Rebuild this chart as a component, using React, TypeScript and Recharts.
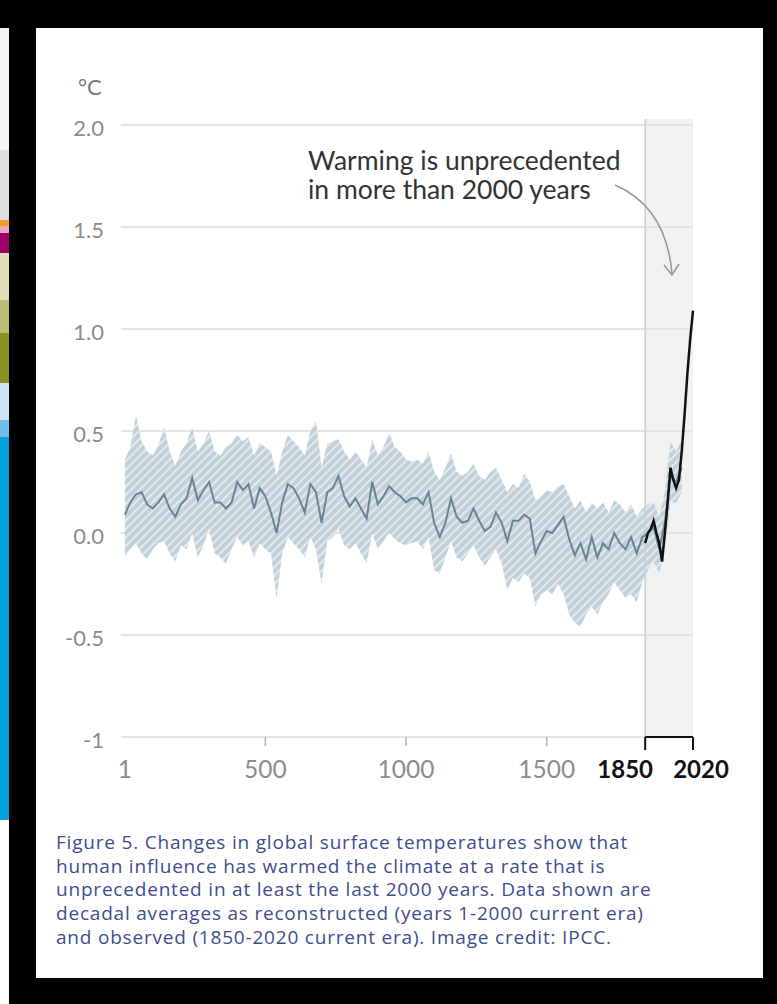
import React from "react";
import {
  ComposedChart,
  Area,
  Line,
  XAxis,
  YAxis,
  CartesianGrid,
  ReferenceArea,
  ReferenceLine,
} from "recharts";

// reconstructed decadal values (sampled every 20 years), °C
const reconYears = [
  1, 20, 40, 60, 80, 100, 120, 140, 160, 180,
  200, 220, 240, 260, 280, 300, 320, 340, 360, 380,
  400, 420, 440, 460, 480, 500, 520, 540, 560, 580,
  600, 620, 640, 660, 680, 700, 720, 740, 760, 780,
  800, 820, 840, 860, 880, 900, 920, 940, 960, 980,
  1000, 1020, 1040, 1060, 1080, 1100, 1120, 1140, 1160, 1180,
  1200, 1220, 1240, 1260, 1280, 1300, 1320, 1340, 1360, 1380,
  1400, 1420, 1440, 1460, 1480, 1500, 1520, 1540, 1560, 1580,
  1600, 1620, 1640, 1660, 1680, 1700, 1720, 1740, 1760, 1780,
  1800, 1820, 1840, 1860, 1880, 1900, 1920, 1940, 1960, 1980,
];
const reconMean = [
  0.09, 0.15, 0.19, 0.2, 0.14, 0.12, 0.15, 0.19, 0.12, 0.08,
  0.14, 0.17, 0.27, 0.16, 0.21, 0.25, 0.15, 0.15, 0.12, 0.15,
  0.25, 0.21, 0.24, 0.12, 0.22, 0.18, 0.1, 0.0, 0.15, 0.24,
  0.22, 0.17, 0.1, 0.24, 0.2, 0.05, 0.2, 0.22, 0.28, 0.18,
  0.13, 0.17, 0.12, 0.07, 0.25, 0.14, 0.18, 0.23, 0.2, 0.18,
  0.15, 0.17, 0.17, 0.14, 0.2, 0.05, -0.02, 0.05, 0.17, 0.08,
  0.05, 0.06, 0.12, 0.06, 0.01, 0.03, 0.1, 0.05, -0.04, 0.06,
  0.06, 0.09, 0.07, -0.1, -0.04, 0.01, 0.0, 0.04, 0.08, -0.03,
  -0.11, -0.05, -0.13, -0.02, -0.12, -0.05, -0.08, 0.0, -0.05, -0.08,
  -0.02, -0.1, -0.02, 0.0, 0.03, -0.08, 0.05, 0.28, 0.25, 0.32,
];
const reconUpper = [
  0.36, 0.42, 0.58, 0.45, 0.4, 0.38, 0.43, 0.52, 0.4, 0.33,
  0.4, 0.44, 0.52, 0.4, 0.44, 0.5, 0.4, 0.38, 0.42, 0.44,
  0.48, 0.45, 0.47, 0.38, 0.44, 0.42, 0.4, 0.28, 0.4, 0.48,
  0.45, 0.42, 0.38, 0.5, 0.55, 0.32, 0.44, 0.45, 0.46, 0.4,
  0.36, 0.4, 0.36, 0.32, 0.46, 0.38, 0.42, 0.49, 0.42, 0.4,
  0.36, 0.35, 0.36, 0.34, 0.4, 0.3, 0.26, 0.32, 0.39, 0.3,
  0.28, 0.3, 0.34, 0.28, 0.26, 0.3, 0.32, 0.26, 0.2, 0.24,
  0.22, 0.29, 0.25, 0.16, 0.18, 0.21, 0.2, 0.23, 0.24, 0.18,
  0.12, 0.16, 0.1, 0.15, 0.12, 0.15, 0.1, 0.16, 0.14, 0.1,
  0.14, 0.08, 0.12, 0.14, 0.15, 0.08, 0.2, 0.45, 0.4, 0.46,
];
const reconLower = [
  -0.12, -0.08, -0.05, -0.1, -0.13, -0.08, -0.05, -0.04, -0.1, -0.14,
  -0.06, -0.08, 0.0, -0.12, -0.06, 0.02, -0.1, -0.12, -0.15, -0.08,
  -0.02, -0.06, -0.04, -0.12, -0.05, -0.08, -0.1, -0.32, -0.1, -0.02,
  -0.05, -0.08, -0.12, -0.02, -0.08, -0.25, -0.04, -0.02, 0.02, -0.06,
  -0.08, -0.05, -0.1, -0.15, 0.0, -0.08, -0.04, 0.0, -0.03, -0.05,
  -0.06, -0.05, -0.04, -0.08, -0.02, -0.18, -0.2, -0.12, -0.04, -0.12,
  -0.14, -0.1, -0.06, -0.12, -0.16, -0.12, -0.08, -0.15, -0.28, -0.22,
  -0.24, -0.2, -0.22, -0.36, -0.3, -0.28, -0.3, -0.25, -0.3, -0.4,
  -0.44, -0.46, -0.4, -0.36, -0.4, -0.34, -0.3, -0.24, -0.28, -0.32,
  -0.3, -0.34, -0.24, -0.18, -0.14, -0.2, -0.08, 0.15, 0.15, 0.2,
];

// observed decadal averages
const obsYears = [1850, 1860, 1870, 1880, 1890, 1900, 1910, 1920, 1930, 1940, 1950, 1960, 1970, 1980, 1990, 2000, 2010, 2020];
const obsValues = [-0.05, 0.0, 0.02, 0.06, 0.0, -0.05, -0.14, 0.0, 0.15, 0.32, 0.26, 0.22, 0.26, 0.4, 0.58, 0.78, 0.95, 1.09];

const xTicks = [1, 500, 1000, 1500, 1850, 2020];
const yTicks = [-1, -0.5, 0, 0.5, 1, 1.5, 2];
const yTickLabels: Record<string, string> = {
  "-1": "-1",
  "-0.5": "-0.5",
  "0": "0.0",
  "0.5": "0.5",
  "1": "1.0",
  "1.5": "1.5",
  "2": "2.0",
};

const captionLines = [
  "Figure 5. Changes in global surface temperatures show that",
  "human influence has warmed the climate at a rate that is",
  "unprecedented in at least the last 2000 years. Data shown are",
  "decadal averages as reconstructed (years 1-2000 current era)",
  "and observed (1850-2020 current era). Image credit: IPCC.",
];

// merge both series into one table keyed by year
const rows: Record<number, any> = {};
reconYears.forEach((yr, i) => {
  rows[yr] = { year: yr, mean: reconMean[i], band: [reconLower[i], reconUpper[i]] };
});
obsYears.forEach((yr, i) => {
  rows[yr] = { ...(rows[yr] || { year: yr }), obs: obsValues[i] };
});
const data = Object.values(rows).sort((a, b) => a.year - b.year);

const FONT = "Lato, 'Open Sans', sans-serif";

const XTick = (props: any) => {
  const { x, y, payload } = props;
  const v = payload.value;
  const bold = v >= 1850;
  const dx = v === 1850 ? -20 : v === 2020 ? 8 : 0;
  return (
    <g>
      {v !== 1 && (
        <line
          x1={x}
          x2={x}
          y1={y}
          y2={y + (bold ? 13 : 9)}
          stroke={bold ? "#111" : "#b0b0b0"}
          strokeWidth={bold ? 2 : 1.5}
        />
      )}
      <text
        x={x + dx}
        y={y + 41}
        textAnchor="middle"
        fontFamily={FONT}
        fontSize={bold ? 24 : 24.5}
        fontWeight={bold ? 700 : 400}
        fill={bold ? "#111" : "#8c8c8c"}
      >
        {v}
      </text>
    </g>
  );
};

const YTick = (props: any) => {
  const { x, y, payload } = props;
  return (
    <text
      x={x}
      y={y + 2}
      textAnchor="end"
      dominantBaseline="central"
      fontFamily={FONT}
      fontSize={22}
      fill="#8c8c8c"
    >
      {yTickLabels[String(payload.value)]}
    </text>
  );
};

const stripes = [
  { top: 28, h: 122, c: "#f4f4f4" },
  { top: 150, h: 70, c: "#dedede" },
  { top: 220, h: 6, c: "#f0a020" },
  { top: 226, h: 7, c: "#e8a8c8" },
  { top: 233, h: 20, c: "#a0006a" },
  { top: 253, h: 47, c: "#e0ddb4" },
  { top: 300, h: 33, c: "#bcbc78" },
  { top: 333, h: 50, c: "#8a9124" },
  { top: 383, h: 37, c: "#cde3f5" },
  { top: 420, h: 17, c: "#72bce8" },
  { top: 437, h: 383, c: "#03a0de" },
  { top: 820, h: 184, c: "#ffffff" },
];

export default function App() {
  return (
    <div style={{ position: "absolute", left: 0, top: 0, width: 777, height: 1004, background: "#000", overflow: "hidden" }}>
      <svg width={0} height={0} style={{ position: "absolute" }}>
        <defs>
          <pattern id="hatch" patternUnits="userSpaceOnUse" width={6} height={6} patternTransform="rotate(45)">
            <rect width={6} height={6} fill="#c2d0d9" />
            <line x1={1} y1={0} x2={1} y2={6} stroke="#e3e9ed" strokeWidth={2} />
          </pattern>
        </defs>
      </svg>

      {/* partial neighbouring graphic on the left edge */}
      {stripes.map((s, i) => (
        <div key={i} style={{ position: "absolute", left: 0, top: s.top, width: 9, height: s.h, background: s.c }} />
      ))}

      {/* white card */}
      <div style={{ position: "absolute", left: 36, top: 28, width: 727, height: 950, background: "#fff" }} />

      <div style={{ position: "absolute", left: 0, top: 0 }}>
        <ComposedChart
          width={777}
          height={800}
          data={data}
          margin={{ top: 125, right: 84, bottom: 0, left: 41 }}
        >
          <CartesianGrid horizontal vertical={false} stroke="#dcdcdc" strokeWidth={1.5} />
          <ReferenceArea
            x1={1850}
            x2={2020}
            y1={-1}
            y2={2.03}
            ifOverflow="visible"
            fill="#e4e4e4"
            fillOpacity={0.5}
            stroke="none"
          />
          <ReferenceLine
            segment={[
              { x: 1850, y: -1 },
              { x: 1850, y: 2.03 },
            ]}
            ifOverflow="visible"
            stroke="#cfcfcf"
            strokeWidth={1.5}
          />
          <XAxis
            dataKey="year"
            type="number"
            domain={[-13, 2020]}
            ticks={xTicks}
            interval={0}
            height={63}
            axisLine={false}
            tickLine={false}
            tickSize={0}
            tickMargin={0}
            tick={<XTick />}
          />
          <YAxis
            type="number"
            domain={[-1, 2]}
            ticks={yTicks}
            interval={0}
            width={80}
            axisLine={false}
            tickLine={false}
            tickSize={0}
            tickMargin={17}
            tick={<YTick />}
          />
          <Area
            dataKey="band"
            type="linear"
            fill="url(#hatch)"
            fillOpacity={1}
            stroke="none"
            connectNulls
            isAnimationActive={false}
          />
          <Line
            dataKey="mean"
            type="linear"
            stroke="#6a8494"
            strokeWidth={2}
            dot={false}
            connectNulls
            isAnimationActive={false}
          />
          <Line
            dataKey="obs"
            type="linear"
            stroke="#111"
            strokeWidth={2.5}
            dot={false}
            connectNulls
            isAnimationActive={false}
          />
          <ReferenceLine
            segment={[
              { x: 1850, y: -1 },
              { x: 2020, y: -1 },
            ]}
            stroke="#111"
            strokeWidth={2}
          />
        </ComposedChart>
      </div>

      {/* unit label */}
      <div style={{ position: "absolute", left: 78, top: 73, fontFamily: FONT, fontSize: 22, color: "#777" }}>°C</div>

      {/* annotation */}
      <div
        style={{
          position: "absolute",
          left: 308,
          top: 146,
          fontFamily: FONT,
          fontSize: 26.5,
          lineHeight: "29px",
          color: "#333",
          whiteSpace: "nowrap",
        }}
      >
        Warming is unprecedented
        <br />
        in more than 2000 years
      </div>
      <svg width={777} height={1004} style={{ position: "absolute", left: 0, top: 0, pointerEvents: "none" }}>
        <path d="M615 185 C 645 198, 668 225, 672 274" fill="none" stroke="#9a9a9a" strokeWidth={1.6} />
        <path d="M664 265 L672 275 L679 264" fill="none" stroke="#9a9a9a" strokeWidth={1.6} />
      </svg>

      {/* caption */}
      <div
        style={{
          position: "absolute",
          left: 56,
          top: 831,
          fontFamily: "'Open Sans', sans-serif",
          fontSize: 19,
          letterSpacing: "0.8px",
          lineHeight: "23.7px",
          color: "#3d4e8e",
          whiteSpace: "nowrap",
        }}
      >
        {captionLines.map((l, i) => (
          <div key={i}>{l}</div>
        ))}
      </div>
    </div>
  );
}
